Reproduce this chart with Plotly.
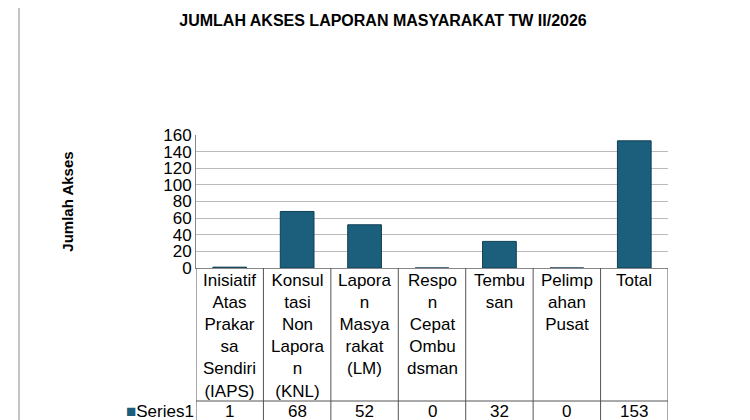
import plotly.graph_objects as go

categories = ['IAPS', 'KNL', 'LM', 'RCO', 'Tembusan', 'Pelimpahan', 'Total']
labels = ['Inisiatif<br>Atas<br>Prakar<br>sa<br>Sendiri<br>(IAPS)',
          'Konsul<br>tasi<br>Non<br>Lapora<br>n<br>(KNL)',
          'Lapora<br>n<br>Masya<br>rakat<br>(LM)',
          'Respo<br>n<br>Cepat<br>Ombu<br>dsman',
          'Tembu<br>san',
          'Pelimp<br>ahan<br>Pusat',
          'Total']
values = [1, 68, 52, 0, 32, 0, 153]
bar_color = '#1b5f7d'

fig = go.Figure()
fig.add_trace(go.Bar(x=categories, y=values, width=0.5, marker=dict(color=bar_color, line=dict(color='#0f3f55', width=1))))

font = dict(family='Liberation Sans Narrow, Liberation Sans, Arial', size=17, color='black')
for c, lab, v in zip(categories, labels, values):
    fig.add_annotation(x=c, y=-0.01, xref='x', yref='paper', text=lab, showarrow=False,
                       yanchor='top', font=font)
    fig.add_annotation(x=c, y=-1.08, xref='x', yref='paper', text=str(v), showarrow=False,
                       yanchor='middle', font=font)
fig.add_annotation(x=-0.5, y=-1.08, xref='x', yref='paper', text='<span style="color:#1b5f7d">■</span>Series1',
                   showarrow=False, xanchor='right', yanchor='middle', font=font)

# table grid lines
for i in range(len(categories) + 1):
    fig.add_shape(type='line', xref='x', yref='paper', x0=i - 0.5, x1=i - 0.5, y0=0, y1=-1.2,
                  line=dict(color='#555', width=1))
fig.add_shape(type='line', xref='x', yref='paper', x0=-1.9, x1=6.5, y0=-1.0, y1=-1.0, line=dict(color='#555', width=1))
# outer frame
fig.add_shape(type='rect', xref='paper', yref='paper', x0=-0.375, x1=1.17, y0=-1.3, y1=2.0,
              line=dict(color='#888', width=1))

fig.update_layout(
    width=750, height=420,
    margin=dict(l=188, r=90, t=127, b=160),
    paper_bgcolor='white', plot_bgcolor='white',
    showlegend=False,
    bargap=0.5,
    title=dict(text='<b>JUMLAH AKSES LAPORAN MASYARAKAT TW II/2026</b>', x=0.5, y=0.985, xanchor='center',
               yanchor='top', font=dict(family='Liberation Sans, Arial', size=16, color='black')),
    xaxis=dict(showticklabels=False, showline=True, linecolor='#888', range=[-0.5, 6.5]),
    yaxis=dict(range=[0, 160], dtick=20, gridcolor='#bbb', showline=True, linecolor='#888',
               tickfont=font, ticks='',
               title=dict(text='<b>Jumlah Akses</b>', standoff=85,
                          font=dict(family='Liberation Sans, Arial', size=15, color='black'))),
)

fig.write_html('out.html')
